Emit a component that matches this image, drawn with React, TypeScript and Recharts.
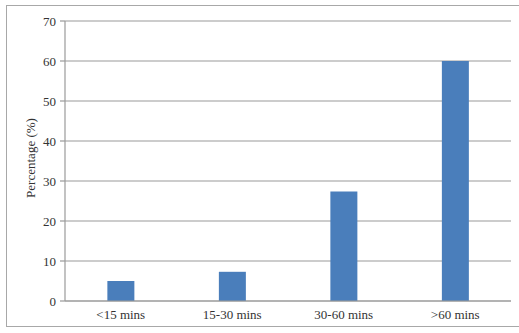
import React from "react";
import { BarChart, Bar, XAxis, YAxis, CartesianGrid, Label } from "recharts";

// --- Data ---

const CATEGORIES = ["<15 mins", "15-30 mins", "30-60 mins", ">60 mins"];
const PERCENTAGES = [5, 7.3, 27.4, 60];
const Y_TICKS = [0, 10, 20, 30, 40, 50, 60, 70];

const data = CATEGORIES.map((name, i) => ({ name, value: PERCENTAGES[i] }));

// --- Styles ---

const FONT = "'Liberation Serif', 'Times New Roman', serif";
const BAR_COLOR = "#4a7ebb";
const GRID_COLOR = "#9a9a9a";
const TEXT_COLOR = "#333";

function YTitle({ viewBox }: any) {
  const x = viewBox.x + 22;
  const y = viewBox.y + viewBox.height / 2 - 3;
  return (
    <text
      x={x}
      y={y}
      transform={`rotate(-90, ${x}, ${y})`}
      textAnchor="middle"
      dominantBaseline="central"
      fill={TEXT_COLOR}
      fontSize={13}
      fontFamily={FONT}
    >
      Percentage (%)
    </text>
  );
}

export default function App() {
  return (
    <div
      style={{
        position: "absolute",
        left: 0,
        top: 0,
        width: 519,
        height: 333,
        background: "#fff",
        overflow: "hidden",
      }}
    >
      <div
        style={{
          position: "absolute",
          left: 6,
          top: 5,
          width: 520,
          height: 322,
          border: "1.5px solid #a8a8a8",
          boxSizing: "border-box",
        }}
      />
      <BarChart
        width={519}
        height={333}
        data={data}
        margin={{ top: 21, right: 8, bottom: 0, left: 8 }}
        barCategoryGap="38%"
        style={{ position: "absolute", left: 0, top: 0 }}
      >
        <CartesianGrid horizontal vertical={false} stroke={GRID_COLOR} strokeWidth={1.2} />
        <XAxis
          dataKey="name"
          height={32}
          tickLine={false}
          tickMargin={3}
          axisLine={{ stroke: GRID_COLOR, strokeWidth: 1.2 }}
          tick={{ fill: TEXT_COLOR, fontSize: 13, fontFamily: FONT }}
          interval={0}
        />
        <YAxis
          width={57}
          domain={[0, 70]}
          ticks={Y_TICKS}
          tickSize={5}
          tickMargin={4}
          axisLine={{ stroke: GRID_COLOR, strokeWidth: 1.2 }}
          tickLine={{ stroke: GRID_COLOR, strokeWidth: 1.2 }}
          tick={{ fill: TEXT_COLOR, fontSize: 13, fontFamily: FONT }}
        >
          <Label content={<YTitle />} />
        </YAxis>
        <Bar dataKey="value" fill={BAR_COLOR} isAnimationActive={false} />
      </BarChart>
    </div>
  );
}
